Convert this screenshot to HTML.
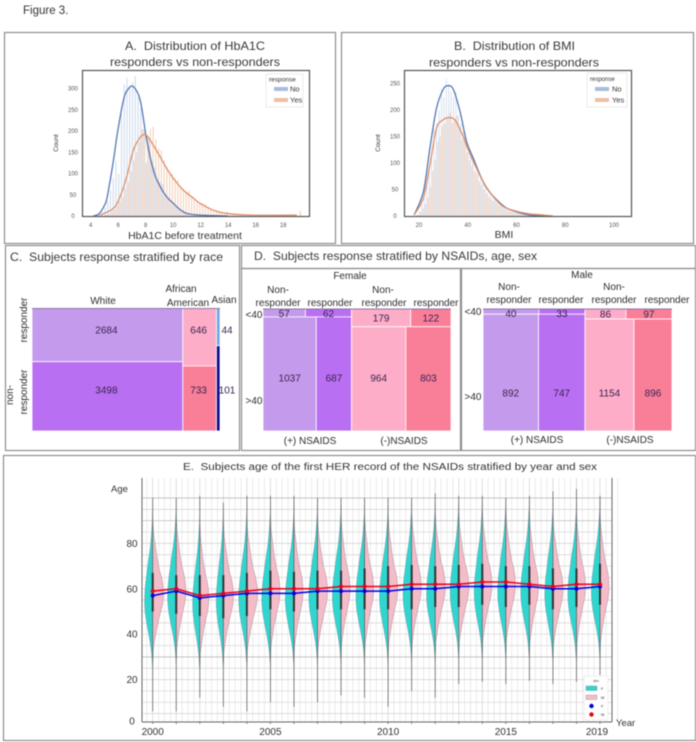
<!DOCTYPE html>
<html lang="en">
<head>
<meta charset="utf-8">
<title>Figure 3</title>
<style>
html,body{margin:0;padding:0;background:#fff;width:696px;height:742px;overflow:hidden}
svg{display:block;filter:blur(.45px)}
text{font-family:"Liberation Sans",sans-serif;fill:#333}
.t{font-size:12px;fill:#3a3a3a}
.l{font-size:10px;fill:#2e2e2e;text-anchor:middle}
.v{font-size:10px;fill:#3a2350;text-anchor:middle}
.tick{font-size:6px;fill:#555;text-anchor:middle}
.box{fill:none;stroke:#8e8e8e;stroke-width:1.2}
.frame{fill:none;stroke:#555;stroke-width:1.2}
</style>
</head>
<body>
<svg id="fig" width="696" height="742" viewBox="0 0 696 742" xmlns="http://www.w3.org/2000/svg">
  <text x="23" y="14" font-size="11.5">Figure 3.</text>

  <!-- panel boxes -->
  <rect class="box" x="4.5" y="32.5" width="331" height="211"/>
  <rect class="box" x="341.5" y="32.5" width="352" height="211"/>
  <rect class="box" x="5.5" y="245.5" width="234" height="205"/>
  <rect class="box" x="241.5" y="245.5" width="454" height="23"/>
  <rect class="box" x="241.5" y="268.5" width="219" height="182"/>
  <rect class="box" x="461.5" y="268.5" width="234" height="182"/>
  <rect class="box" x="3.5" y="455.5" width="692" height="285"/>

  <!-- Panel A -->
  <g>
    <text class="t" x="125" y="50" textLength="140" lengthAdjust="spacingAndGlyphs">A.&#160; Distribution of HbA1C</text>
    <text class="t" x="110" y="66" textLength="170" lengthAdjust="spacingAndGlyphs">responders vs non-responders</text>
    <g id="histA"></g>
    <rect class="frame" x="82.5" y="70.5" width="227" height="146"/>
    <text x="58" y="143" font-size="6.5" fill="#555" text-anchor="middle" transform="rotate(-90 58 143)">Count</text>
    <text x="185" y="239" font-size="10.5" text-anchor="middle">HbA1C before treatment</text>
    <g>
      <rect x="266" y="74" width="37" height="33" fill="#fff" stroke="#ddd" stroke-width=".6"/>
      <text x="269" y="81.500" font-size="6.500" fill="#777">response</text>
      <rect x="274" y="87" width="14" height="4" fill="#a9bcdc"/>
      <text x="290" y="91.500" font-size="7.500">No</text>
      <rect x="274" y="98" width="14" height="4" fill="#efbfa2"/>
      <text x="290" y="102.500" font-size="7.500">Yes</text>
    </g>
  </g>

  <!-- Panel B -->
  <g>
    <text class="t" x="454" y="50" textLength="121" lengthAdjust="spacingAndGlyphs">B.&#160; Distribution of BMI</text>
    <text class="t" x="429" y="66.500" textLength="170" lengthAdjust="spacingAndGlyphs">responders vs non-responders</text>
    <g id="histB"></g>
    <rect class="frame" x="404.5" y="70.5" width="227" height="146"/>
    <text x="380" y="143" font-size="6.5" fill="#555" text-anchor="middle" transform="rotate(-90 380 143)">Count</text>
    <text x="504" y="238" font-size="10.5" text-anchor="middle">BMI</text>
    <g>
      <rect x="587" y="73" width="40" height="34" fill="#fff" stroke="#ddd" stroke-width=".6"/>
      <text x="590" y="81" font-size="6" fill="#777">response</text>
      <rect x="595" y="87" width="14" height="4" fill="#a9bcdc"/>
      <text x="612" y="91.500" font-size="7.500">No</text>
      <rect x="595" y="98" width="14" height="4" fill="#efbfa2"/>
      <text x="612" y="102.500" font-size="7.500">Yes</text>
    </g>
  </g>

  <!-- Panel C -->
  <g>
    <text class="t" x="10" y="261" textLength="213" lengthAdjust="spacingAndGlyphs">C.&#160; Subjects response stratified by race</text>
    <g id="raceMosaic"></g>
    <text class="l" x="103" y="304">White</text>
    <text class="l" x="181" y="292">African</text>
    <text class="l" x="188" y="306">American</text>
    <text class="l" x="224" y="303" font-size="9">Asian</text>
    <text class="l" x="27" y="320" transform="rotate(-90 27 320)">responder</text>
    <text class="l" x="13" y="395" transform="rotate(-90 13 395)">non-</text>
    <text class="l" x="27" y="392" transform="rotate(-90 27 392)">responder</text>
  </g>

  <!-- Panel D -->
  <g>
    <text class="t" x="254" y="260" textLength="283" lengthAdjust="spacingAndGlyphs">D.&#160; Subjects response stratified by NSAIDs, age, sex</text>
    <g id="femaleMosaic"></g>
    <g id="maleMosaic"></g>
    <g>
      <text class="l" x="350" y="279">Female</text>
      <text class="l" x="278" y="293">Non-</text>
      <text class="l" x="278" y="306">responder</text>
      <text class="l" x="330" y="306">responder</text>
      <text class="l" x="383" y="293">Non-</text>
      <text class="l" x="384" y="306">responder</text>
      <text class="l" x="436" y="306">responder</text>
      <text class="l" x="254" y="318">&lt;40</text>
      <text class="l" x="254" y="404">&gt;40</text>
      <text class="l" x="310" y="444">(+) NSAIDS</text>
      <text class="l" x="404" y="444">(-)NSAIDS</text>
    </g>
    <g>
      <text class="l" x="582" y="278">Male</text>
      <text class="l" x="509" y="290">Non-</text>
      <text class="l" x="509" y="303">responder</text>
      <text class="l" x="561" y="303">responder</text>
      <text class="l" x="614" y="290">Non-</text>
      <text class="l" x="614" y="303">responder</text>
      <text class="l" x="667" y="303">responder</text>
      <text class="l" x="473" y="315">&lt;40</text>
      <text class="l" x="473" y="400">&gt;40</text>
      <text class="l" x="537" y="443">(+) NSAIDS</text>
      <text class="l" x="630" y="443">(-)NSAIDS</text>
    </g>
  </g>

  <!-- Panel E -->
  <g>
    <text x="183" y="470" font-size="10" textLength="414" lengthAdjust="spacingAndGlyphs">E.&#160; Subjects age of the first HER record of the NSAIDs stratified by year and sex</text>
    <g id="violins"></g>
    <text x="111" y="492" font-size="9.500">Age</text>
    <text x="616" y="726" font-size="9.500">Year</text>
    <g>
      <rect x="584" y="676" width="24" height="44" fill="#fff" fill-opacity=".92" stroke="#ddd" stroke-width=".5"/>
      <text x="596" y="682" font-size="3.500" text-anchor="middle">sex</text>
      <rect x="586" y="686" width="11" height="4.500" fill="#2fd6d0" stroke="#777" stroke-width=".3"/>
      <text x="601" y="690" font-size="4">F</text>
      <rect x="586" y="695" width="11" height="4.500" fill="#f4bcc8" stroke="#777" stroke-width=".3"/>
      <text x="601" y="699" font-size="4">M</text>
      <circle cx="591.500" cy="706" r="2.200" fill="#0000e0"/>
      <text x="601" y="707.500" font-size="4">F</text>
      <circle cx="591.500" cy="714.500" r="2.200" fill="#e8001c"/>
      <text x="601" y="716" font-size="4">M</text>
    </g>
  </g>
</svg>

<script>
/* ---------- Panel A data ---------- */
const hba1cTicksX = [4, 6, 8, 10, 12, 14, 16, 18];
const hba1cTicksY = [0, 50, 100, 150, 200, 250, 300];
const hba1cNoBinStart = 4.6;
const hba1cYesBinStart = 5.0;
const hba1cBinWidth = 0.2;
const hba1cNoCounts = [5,10,20,35,60,90,130,100,240,310,325,300,315,330,280,255,205,125,180,130,115,85,80,75,50,40,30,25,20,14,10,7,5];
const hba1cYesCounts = [3,6,10,15,25,35,45,65,80,105,130,150,175,205,200,190,205,210,180,160,155,130,115,105,100,90,85,70,60,55,60,45,38,35,30,30,28,22,17,14,12,10,9,8,10,5,4,4,3,3,3];
const hba1cOutlierBins = [19.1];
const hba1cOutlierCounts = [12];
const hba1cKdeNoX = [4.2,4.6,5,5.2,5.65,5.94,6.38,6.7,7.1,7.6,8.07,8.56,9.04,9.53,10,10.5,11,12,14];
const hba1cKdeNoY = [0,5,25,45,130,195,273,298,305,273,180,108,70,45,30,15,6,2,0];
const hba1cKdeYesX = [4.7,5.65,6.13,6.62,7.1,7.59,7.95,8.3,9.04,9.53,10,10.74,11.47,11.95,12.9,13.9,15.8,19];
const hba1cKdeYesY = [2,18,45,93,155,185,192,180,140,112,89,61,42,30,14,6,2,2];

/* ---------- Panel B data ---------- */
const bmiTicksX = [20, 40, 60, 80, 100];
const bmiTicksY = [0, 50, 100, 150, 200, 250];
const bmiBinStart = 19;
const bmiBinWidth = 1;
const bmiNoCounts = [3,10,22,40,60,85,110,165,175,200,240,225,260,250,235,225,235,190,175,160,135,120,125,105,85,80,70,62,52,45,42,35,30,26,22,18,15,12,10,9,7,6,5,4,3,2,2];
const bmiYesCounts = [2,8,14,22,35,55,85,105,140,150,170,175,185,195,175,180,190,165,145,150,120,105,95,85,80,65,58,50,42,35,30,28,25,20,18,14,12,10,8,7,6,5,4,3,3,2,2,2,1,1,2,2];
const bmiKdeNoX = [18,21.8,24.5,27.2,30,32,34,36.8,39.5,42.2,45,47.7,51.8,55.9,61.3,66.8,72];
const bmiKdeNoY = [2,46,129,204,240,246,240,198,141,110,78,53,31,15,6,1,0];
const bmiKdeYesX = [18,21.8,24.5,27.2,30,32,34.7,37.5,40.2,42.9,46.3,50.4,54.5,60,65.4,69.5,75];
const bmiKdeYesY = [2,34,97,166,182,186,182,157,125,97,65,37,18,9,4,2.5,0];

/* ---------- Panel C data ---------- */
const raceNames = ['white', 'african-american', 'asian'];
const raceResponder = [2684, 646, 44];
const raceNonResponder = [3498, 733, 101];

/* ---------- Panel D data (columns: non-responder, responder) ---------- */
const femaleUnder40Pos = [57, 62];
const femaleOver40Pos = [1037, 687];
const femaleUnder40Neg = [179, 122];
const femaleOver40Neg = [964, 803];
const maleUnder40Pos = [40, 33];
const maleOver40Pos = [892, 747];
const maleUnder40Neg = [86, 97];
const maleOver40Neg = [1154, 896];
const femaleGroupWeight = [1, 1];
const maleGroupWeight = [1.53, 1];

/* ---------- Panel E data ---------- */
const years = [2000,2001,2002,2003,2004,2005,2006,2007,2008,2009,2010,2011,2012,2013,2014,2015,2016,2017,2018,2019];
const yearTickLabels = [2000, 2005, 2010, 2015, 2019];
const ageTickLabels = [0, 20, 40, 60, 80];
const meanAgeF = [57,59,56,57,58,58,58,59,59,59,59,60,60,61,61,61,61,60,60,61];
const meanAgeM = [59,60,57,58,59,60,60,60,61,61,61,62,62,62,63,63,62,61,62,62];
const ageMin = [6,6,12,8,6,10,8,10,13,12,8,15,12,18,19,18,19.5,18,19,22];
const ageMax = [100,100,101,98,101,101,101,100,100,100,100,100,102,101,101,100,101,103,104,101];
const ageQ1 = [50,49,48,47,48,51,50,51,51,51,51,51,52,52,53,52,53,51,52,53];
const ageQ3 = [67,66,66,66,67,68,67.5,68,68,69,70,70.5,70,70.5,71,70,70,69,69,71];
const peakDensityF = [.8,.85,.7,.7,.8,.85,.85,.85,.85,.85,.85,.85,.85,.85,.8,.8,.85,.8,.85,.85];
const peakDensityM = [1.07,.95,.9,1,1.05,.95,.9,1,.9,.9,.95,.95,1,1,.95,.95,.9,1,.9,.9];
const profileOffsetsF = [-30,-25,-20,-15,-10,-5,0,5,10,15,20,25,30,35];
const profileDensityF = [.05,.15,.35,.6,.85,1,1,.9,.72,.55,.35,.2,.1,.03];
const profileOffsetsM = [-30,-25,-20,-15,-10,-5,0,5,10,15,20,25,30];
const profileDensityM = [.03,.08,.25,.45,.7,.95,1,.88,.6,.4,.25,.1,.03];

/* ---------- helpers ---------- */
const NS = 'http://www.w3.org/2000/svg';
function add(parent, tag, props, text) {
  const e = document.createElementNS(NS, tag);
  for (const k in props) e.setAttribute(k, props[k]);
  if (text !== undefined) e.textContent = text;
  parent.appendChild(e);
  return e;
}
function linear(d0, d1, r0, r1) {
  return v => r0 + (v - d0) * (r1 - r0) / (d1 - d0);
}
function smooth(pts) {
  let d = 'M' + pts[0][0].toFixed(2) + ' ' + pts[0][1].toFixed(2);
  for (let i = 0; i < pts.length - 1; i++) {
    const p0 = pts[Math.max(i - 1, 0)], p1 = pts[i], p2 = pts[i + 1], p3 = pts[Math.min(i + 2, pts.length - 1)];
    const c1x = p1[0] + (p2[0] - p0[0]) / 6, c1y = p1[1] + (p2[1] - p0[1]) / 6;
    const c2x = p2[0] - (p3[0] - p1[0]) / 6, c2y = p2[1] - (p3[1] - p1[1]) / 6;
    d += 'C' + c1x.toFixed(2) + ' ' + c1y.toFixed(2) + ' ' + c2x.toFixed(2) + ' ' + c2y.toFixed(2) + ' ' + p2[0].toFixed(2) + ' ' + p2[1].toFixed(2);
  }
  return d;
}

/* ---------- histogram drawing ---------- */
function drawBars(g, starts, counts, x, y, barW, offset, color, prefix) {
  counts.forEach((c, i) => {
    const bar = add(g, 'rect', { x: x(starts(i)) + offset, y: y(c), width: barW, height: Math.max(y(0) - y(c), 0), fill: color });
    
    
  });
}
function drawCurve(g, xs, ys, x, y, color, prefix) {
  const curve = add(g, 'path', { d: smooth(xs.map((v, i) => [x(v), y(ys[i])])), fill: 'none', stroke: color, 'stroke-width': 1.3 });
  
  
}
function drawAxisTicks(g, ticksX, ticksY, x, y, left, prefix) {
  ticksX.forEach(t => {
    const label = add(g, 'text', { class: 'tick', x: x(t), y: 227 }, String(t));
    
    
  });
  ticksY.forEach(t => {
    const label = add(g, 'text', { class: 'tick', x: left - 9, y: y(t) + 2 }, String(t));
    
    
  });
}

/* Panel A */
{
  const g = document.getElementById('histA');
  const x = linear(4, 18, 90.7, 283.2);
  const y = linear(0, 300, 216, 88.7);
  const step = hba1cBinWidth * 13.75 / 2;
  const w = step * 0.8;
  drawBars(g, i => hba1cNoBinStart + i * hba1cBinWidth, hba1cNoCounts, x, y, w, 0, '#d0dbed', 'hba1c-no');
  drawBars(g, i => hba1cYesBinStart + i * hba1cBinWidth, hba1cYesCounts, x, y, w, step, '#f4d2bc', 'hba1c-yes');
  drawBars(g, i => hba1cOutlierBins[i], hba1cOutlierCounts, x, y, w, step, '#f1c6ab', 'hba1c-yes-outlier');
  drawCurve(g, hba1cKdeNoX, hba1cKdeNoY, x, y, '#5478b5', 'hba1c-no');
  drawCurve(g, hba1cKdeYesX, hba1cKdeYesY, x, y, '#e0906a', 'hba1c-yes');
  drawAxisTicks(g, hba1cTicksX, hba1cTicksY, x, y, 82, 'hba1c');
}

/* Panel B */
{
  const g = document.getElementById('histB');
  const x = linear(20, 100, 419, 614);
  const y = linear(0, 250, 216, 83.7);
  const step = bmiBinWidth * 2.44 / 2;
  const w = step * 0.7;
  const starts = i => bmiBinStart + i * bmiBinWidth;
  drawBars(g, starts, bmiNoCounts, x, y, w, 0, '#d0dbed', 'bmi-no');
  drawBars(g, starts, bmiYesCounts, x, y, w, step, '#f3ccb3', 'bmi-yes');
  drawCurve(g, bmiKdeNoX, bmiKdeNoY, x, y, '#5478b5', 'bmi-no');
  drawCurve(g, bmiKdeYesX, bmiKdeYesY, x, y, '#e0906a', 'bmi-yes');
  drawAxisTicks(g, bmiTicksX, bmiTicksY, x, y, 404, 'bmi');
}

/* Panel C */
{
  const g = document.getElementById('raceMosaic');
  const x0 = 32, x1 = 220, y0 = 308.5, y1 = 431;
  const topColors = ['#c49bec', '#fdadc8', '#6fa8e4'];
  const bottomColors = ['#b96ff2', '#f97f99', '#0a0a8c'];
  const totals = raceResponder.map((v, i) => v + raceNonResponder[i]);
  const grand = totals.reduce((a, b) => a + b, 0);
  const colX = linear(0, grand, x0, x1);
  const rowY = linear(0, 1, y0, y1);
  let acc = 0;
  totals.forEach((t, i) => {
    const xa = colX(acc), xb = colX(acc + t);
    const split = rowY(raceResponder[i] / t);
    const top = add(g, 'rect', { x: xa, y: y0, width: xb - xa, height: split - y0, fill: topColors[i], stroke: '#fff', 'stroke-width': 0.8 });
    
    
    const bottom = add(g, 'rect', { x: xa, y: split, width: xb - xa, height: y1 - split, fill: bottomColors[i], stroke: '#fff', 'stroke-width': 0.8 });
    
    
    const lx = (xb - xa) < 10 ? xb + 7 : (xa + xb) / 2 - 1;
    const t1 = add(g, 'text', { class: 'v', x: lx, y: 333.5 }, String(raceResponder[i]));
    
    
    const t2 = add(g, 'text', { class: 'v', x: lx, y: 393.5 }, String(raceNonResponder[i]));
    
    
    acc += t;
  });
  const topLine = add(g, 'line', { x1: x0, x2: x1, y1: y0, y2: y0, stroke: '#6a4a8a', 'stroke-width': 0.8 });
  
  
}

/* Panel D */
function drawMosaic(g, prefix, x0, x1, y0, y1, under, over, weights, lowerLabelY) {
  const palettes = [['#c49bec', '#b96ff2'], ['#fdadc8', '#f97f99']];
  const sum = a => a[0] + a[1];
  const weighted = under.map((u, i) => (sum(u) + sum(over[i])) * weights[i]);
  const split = x0 + (x1 - x0) * weighted[0] / (weighted[0] + weighted[1]);
  const ranges = [[x0, split], [split, x1]];
  ranges.forEach((r, i) => {
    const rowSplit = y0 + (y1 - y0) * sum(under[i]) / (sum(under[i]) + sum(over[i]));
    const xu = r[0] + (r[1] - r[0]) * under[i][0] / sum(under[i]);
    const xo = r[0] + (r[1] - r[0]) * over[i][0] / sum(over[i]);
    [[r[0], xu], [xu, r[1]]].forEach((c, j) => {
      const cell = add(g, 'rect', { x: c[0], y: y0, width: c[1] - c[0], height: rowSplit - y0, fill: palettes[i][j], stroke: '#fff', 'stroke-width': 0.8 });
      
      
      const val = add(g, 'text', { class: 'v', x: (c[0] + c[1]) / 2, y: Math.max((y0 + rowSplit) / 2 + 3.5, y0 + 8) }, String(under[i][j]));
      
      
    });
    [[r[0], xo], [xo, r[1]]].forEach((c, j) => {
      const cell = add(g, 'rect', { x: c[0], y: rowSplit, width: c[1] - c[0], height: y1 - rowSplit, fill: palettes[i][j], stroke: '#fff', 'stroke-width': 0.8 });
      
      
      const val = add(g, 'text', { class: 'v', x: (c[0] + c[1]) / 2, y: lowerLabelY }, String(over[i][j]));
      
      
    });
  });
  const edge = add(g, 'line', { x1: x0, x2: x1, y1: y0, y2: y0, stroke: '#6a4a8a', 'stroke-width': 0.8 });
  
  
  /* values sit on top of the lower cells, so re-raise them */
  g.querySelectorAll('text').forEach(t => g.appendChild(t));
}
drawMosaic(document.getElementById('femaleMosaic'), 'female', 263, 451, 309, 431,
  [femaleUnder40Pos, femaleUnder40Neg], [femaleOver40Pos, femaleOver40Neg], femaleGroupWeight, 381.5);
drawMosaic(document.getElementById('maleMosaic'), 'male', 483, 672, 309, 431,
  [maleUnder40Pos, maleUnder40Neg], [maleOver40Pos, maleOver40Neg], maleGroupWeight, 396.5);

/* Panel E */
{
  const g = document.getElementById('violins');
  const x = linear(2000, 2019, 152.7, 600);
  const y = linear(0, 100, 725, 498);
  const densityPx = linear(0, 1, 0, 10);
  const top = 478, bottom = 722, left = 142, right = 612;

  const gridGroup = add(g, 'g', {});
  
  
  for (let yr = 1999.75; yr <= 2019.75; yr += 0.25) {
    const major = Math.abs(yr - Math.round(yr)) < 0.01;
    const vl = add(gridGroup, 'line', { x1: x(yr), x2: x(yr), y1: top, y2: bottom, stroke: major ? '#cfcfcf' : '#e3e3e3', 'stroke-width': 0.7 });
    
    
  }
  for (let a = 5; a <= 100; a += 5) {
    const dark = a === 100 || a === 90 || a === 30;
    const hl = add(gridGroup, 'line', { x1: left, x2: right, y1: y(a), y2: y(a), stroke: dark ? '#b0b0b0' : '#d2d2d2', 'stroke-width': 0.7 });
    
    
  }

  years.forEach((yr, i) => {
    const cx = x(yr);
    const fPts = profileOffsetsF.map((o, k) => [cx - densityPx(profileDensityF[k] * peakDensityF[i]), y(meanAgeF[i] + o)]);
    const mPts = profileOffsetsM.map((o, k) => [cx + densityPx(profileDensityM[k] * peakDensityM[i]), y(meanAgeM[i] + o)]);
    const fStart = [cx, fPts[0][1] + 5], fEnd = [cx, fPts[fPts.length - 1][1] - 7];
    const mStart = [cx, mPts[0][1] + 3], mEnd = [cx, mPts[mPts.length - 1][1] - 4];

    const fHalf = add(g, 'path', { d: smooth([fStart, ...fPts, fEnd]) + 'Z', fill: '#2fd6d0', stroke: '#667', 'stroke-width': 0.3 });
    
    
    const mHalf = add(g, 'path', { d: smooth([mStart, ...mPts, mEnd]) + 'Z', fill: '#f4bcc8', stroke: '#667', 'stroke-width': 0.4, 'stroke-dasharray': '2 .6' });
    
    

    const whisker = add(g, 'line', { x1: cx, x2: cx, y1: y(ageMin[i]), y2: y(ageMax[i]), stroke: '#666', 'stroke-width': 0.8 });
    
    
    const iqr = add(g, 'line', { x1: cx, x2: cx, y1: y(ageQ1[i]), y2: y(ageQ3[i]), stroke: '#333', 'stroke-width': 2 });
    
    
  });

  const fLine = add(g, 'polyline', { points: years.map((yr, i) => x(yr) + ',' + y(meanAgeF[i])).join(' '), fill: 'none', stroke: '#0000e0', 'stroke-width': 1.5 });
  
  
  const mLine = add(g, 'polyline', { points: years.map((yr, i) => x(yr) + ',' + y(meanAgeM[i])).join(' '), fill: 'none', stroke: '#e8001c', 'stroke-width': 1.5 });
  
  
  years.forEach((yr, i) => {
    const pf = add(g, 'circle', { cx: x(yr), cy: y(meanAgeF[i]), r: 2, fill: '#0000e0' });
    
    
    const pm = add(g, 'circle', { cx: x(yr), cy: y(meanAgeM[i]), r: 2, fill: '#e8001c' });
    
    
  });

  const leftAxis = add(g, 'line', { x1: left, x2: left, y1: top, y2: bottom, stroke: '#666', 'stroke-width': 1 });
  
  
  const rightAxis = add(g, 'line', { x1: right, x2: right, y1: top, y2: bottom, stroke: '#666', 'stroke-width': 1 });
  
  
  const bottomAxis = add(g, 'line', { x1: left, x2: right, y1: bottom, y2: bottom, stroke: '#666', 'stroke-width': 1 });
  
  

  ageTickLabels.forEach(a => {
    const label = add(g, 'text', { x: 132, y: Math.min(y(a), 721) + 3.5, 'font-size': 10, 'text-anchor': 'middle' }, String(a));
    
    
  });
  years.forEach(yr => {
    const tick = add(g, 'line', { x1: x(yr), x2: x(yr), y1: bottom, y2: bottom + 2, stroke: '#555', 'stroke-width': 0.7 });
    
    
  });
  yearTickLabels.forEach(yr => {
    const label = add(g, 'text', { x: x(yr) - (yr === 2019 ? 3 : 0), y: 735, 'font-size': 10, 'text-anchor': 'middle' }, String(yr));
    
    
  });
}
</script>
</body>
</html>
